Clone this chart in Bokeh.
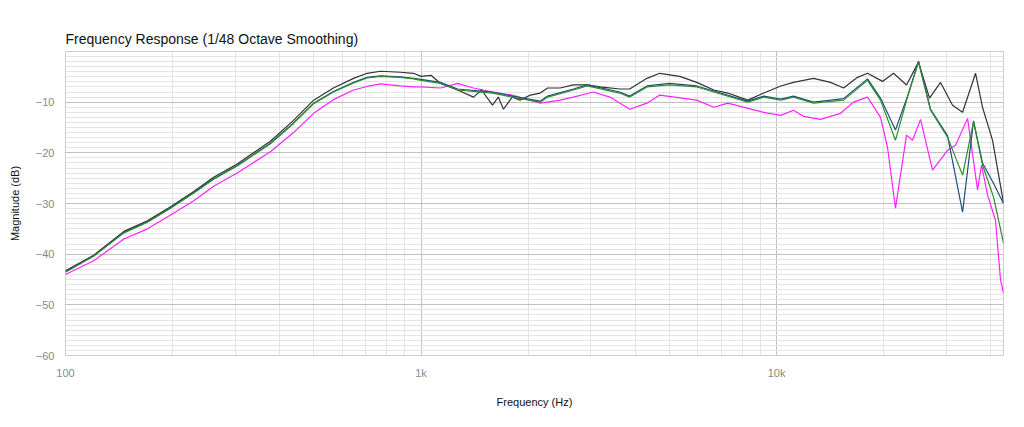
from bokeh.plotting import figure
from bokeh.models import Range1d, FixedTicker
from bokeh.embed import file_html
from bokeh.resources import INLINE

low_f = [100, 120, 146, 170, 197, 229, 261, 304, 377, 438, 499, 567, 646, 705, 769, 875, 953]
black_low = [-43.3, -40.2, -35.5, -33.4, -30.7, -27.7, -24.8, -22.2, -17.7, -13.6, -9.6, -7.2, -5.3, -4.3, -3.9, -4.1, -4.3]
green_low = [-43.5, -40.4, -35.8, -33.7, -31.0, -28.0, -25.2, -22.6, -18.2, -14.2, -10.3, -8.0, -6.2, -5.2, -4.9, -5.1, -5.4]
blue_low = [-43.5, -40.3, -35.7, -33.6, -30.9, -27.9, -25.1, -22.5, -18.1, -14.1, -10.2, -7.9, -6.1, -5.1, -4.8, -5.0, -5.3]
pink_low = [-44.0, -41.3, -37.0, -35.0, -32.3, -29.5, -26.6, -24.0, -19.8, -16.0, -12.2, -9.5, -7.6, -6.9, -6.4, -6.8, -7.0]

black_f = [1000, 1067, 1135, 1267, 1405, 1480, 1589, 1650, 1706, 1805, 1900, 2032, 2163, 2271, 2463, 2683, 2935, 3185, 3623, 3864, 4321, 4695, 5344, 5964, 6663, 7291, 8304, 9210, 10280, 11160, 12710, 14190, 15440, 16900, 18030, 19870, 21340, 23210, 25090, 26940, 28930, 31270, 33370, 36300, 37970, 40510, 43500]
black_db = [-4.9, -4.7, -6.3, -7.6, -9.0, -7.6, -10.6, -9.0, -11.4, -9.0, -9.6, -8.6, -8.2, -7.2, -7.2, -6.6, -6.6, -7.0, -7.4, -7.4, -5.3, -4.3, -4.9, -6.1, -7.6, -8.2, -9.6, -8.2, -6.8, -6.1, -5.3, -6.1, -7.2, -5.1, -4.3, -5.9, -4.3, -6.6, -2.1, -9.2, -6.1, -10.6, -12.0, -4.3, -11.0, -17.5, -29.9]

green_f = [1000, 1135, 1267, 1589, 1805, 2163, 2271, 2683, 2935, 3623, 3864, 4321, 5000, 5964, 6663, 8304, 9210, 10280, 11160, 12710, 15440, 18030, 19610, 21610, 23360, 25090, 27120, 30270, 33370, 35830, 37970, 40770, 43500]
green_db = [-5.7, -6.3, -7.6, -8.2, -9.0, -10.0, -9.0, -7.6, -6.8, -8.2, -9.0, -7.0, -6.6, -7.0, -8.0, -10.0, -9.0, -9.6, -9.0, -10.2, -9.6, -5.7, -9.6, -17.5, -9.0, -2.1, -11.6, -16.9, -24.4, -13.9, -22.4, -28.7, -37.8]
blue_db = [-5.5, -6.1, -7.4, -8.0, -8.8, -9.8, -8.8, -7.4, -6.6, -8.0, -8.8, -6.8, -6.3, -6.8, -7.8, -9.8, -8.8, -9.4, -8.8, -10.0, -9.3, -5.4, -9.2, -15.5, -8.8, -1.9, -11.4, -16.6, -31.7, -13.7, -22.0, -26.0, -30.0]

pink_f = [1000, 1135, 1267, 1405, 1589, 1805, 2163, 2463, 2683, 3050, 3400, 3864, 4321, 4695, 5964, 6663, 7291, 9210, 10280, 11160, 11910, 13300, 15140, 16470, 18030, 19610, 20520, 21610, 23210, 24130, 25420, 27470, 30270, 31890, 34470, 36770, 37730, 39220, 41300, 42660, 43500]
pink_db = [-7.0, -7.2, -6.3, -7.2, -8.0, -8.6, -10.2, -9.6, -9.0, -8.0, -9.0, -11.4, -10.2, -8.6, -9.6, -11.0, -10.2, -12.0, -12.6, -11.6, -12.8, -13.4, -12.2, -10.0, -9.0, -13.0, -18.9, -30.9, -16.5, -17.5, -13.4, -23.4, -19.5, -18.5, -13.2, -27.3, -22.4, -28.3, -33.3, -45.0, -47.7]

x_major = [100, 1000, 10000]
x_labels = {100: "100", 1000: "1k", 10000: "10k"}
y_major = [-60, -50, -40, -30, -20, -10]

p = figure(width=1008, height=419, x_axis_type="log", output_backend="svg",
           toolbar_location=None, x_range=Range1d(100, 43500), y_range=Range1d(-60, 0),
           min_border_left=65, min_border_right=5, min_border_top=51, min_border_bottom=64,
           title="Frequency Response (1/48 Octave Smoothing)")
p.title.text_font = "Liberation Sans"
p.title.text_font_size = "14px"
p.title.text_font_style = "normal"
p.title.text_color = "#111111"
p.title.offset = 0
p.outline_line_color = "#cccccc"
p.background_fill_color = "white"

x_minor = [m * d for d in [100, 1000, 10000] for m in range(2, 10) if m * d < 43500]
p.xaxis.ticker = FixedTicker(ticks=x_major, minor_ticks=x_minor)
p.xaxis.major_label_overrides = x_labels
p.yaxis.ticker = FixedTicker(ticks=y_major + [0], minor_ticks=list(range(-60, 1)))
p.yaxis.major_label_overrides = {0: ""}
for ax in (p.xaxis[0], p.yaxis[0]):
    ax.axis_line_color = None
    ax.major_tick_line_color = None
    ax.minor_tick_line_color = None
    ax.major_label_text_color = "#888888"
    ax.major_label_text_font = "Liberation Sans"
    ax.major_label_text_font_size = "11px"
    ax.axis_label_text_font = "Liberation Sans"
    ax.axis_label_text_font_size = "11px"
    ax.axis_label_text_font_style = "normal"
    ax.axis_label_text_color = "#111111"
p.xaxis.axis_label = "Frequency (Hz)"
p.yaxis.axis_label = "Magnitude (dB)"
p.xaxis.axis_label_standoff = 14
p.yaxis.axis_label_standoff = 12

p.xgrid.grid_line_color = "#c0c0c0"
p.ygrid.grid_line_color = "#c0c0c0"
p.xgrid.minor_grid_line_color = "#e4e4e4"
p.ygrid.minor_grid_line_color = "#e4e4e4"

p.line(low_f + pink_f, pink_low + pink_db, line_color="#ff22ff", line_width=1.2)
p.line(low_f + black_f, black_low + black_db, line_color="#333333", line_width=1.2)
p.line(low_f + green_f, blue_low + blue_db, line_color="#1f4f80", line_width=1.2)
p.line(low_f + green_f, green_low + green_db, line_color="#2e8b2e", line_width=1.2)

open("out.html", "w").write(file_html(p, INLINE))
